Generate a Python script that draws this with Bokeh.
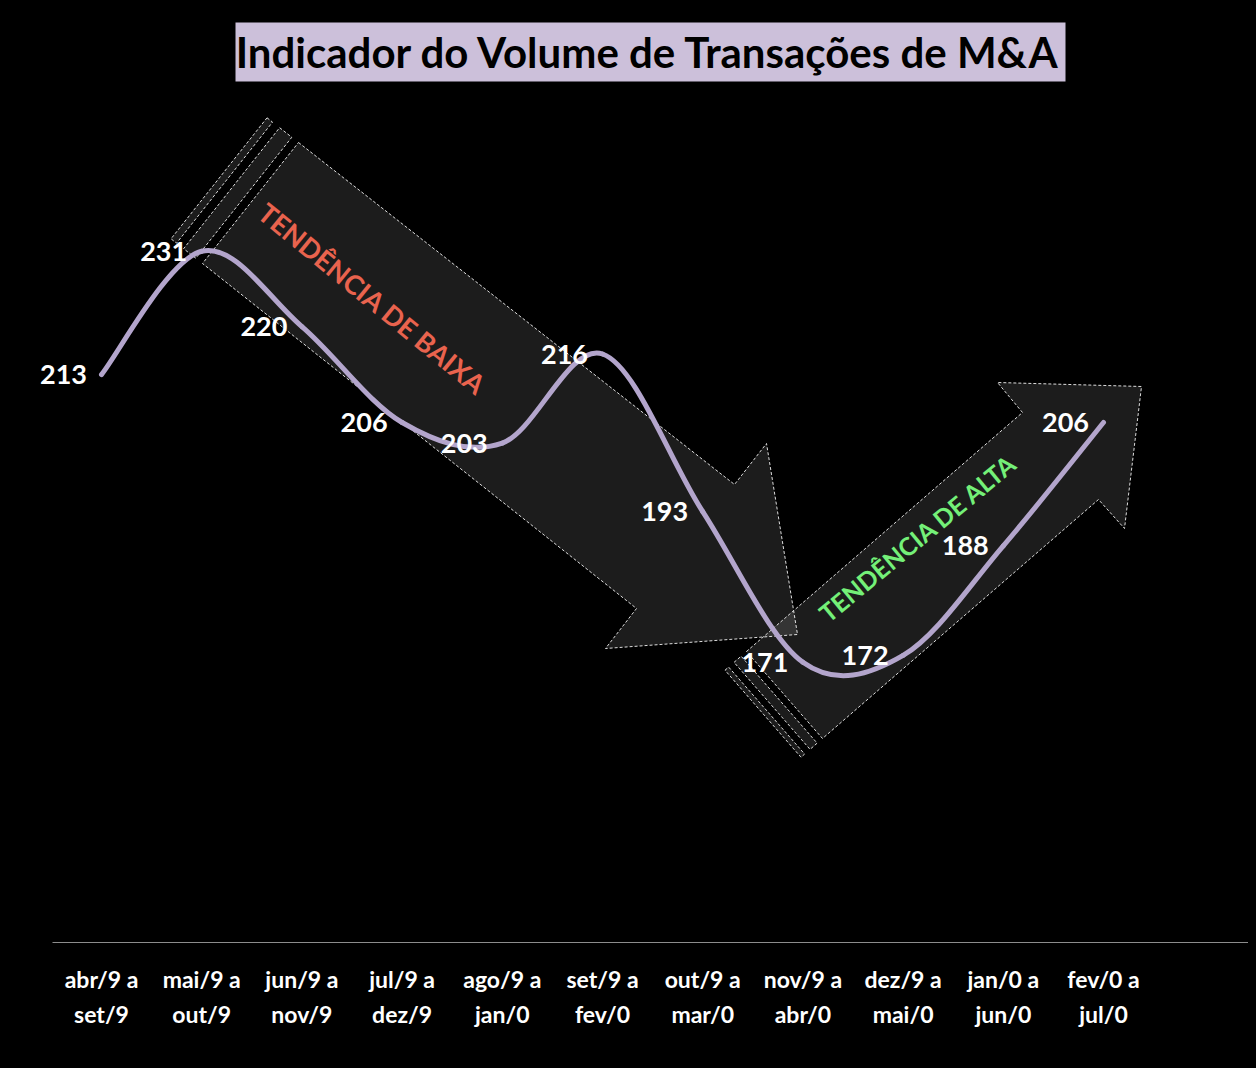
import numpy as np
from bokeh.plotting import figure
from bokeh.models import (Range1d, LinearAxis, FixedTicker, ColumnDataSource,
                          LabelSet, Label, BoxAnnotation)
from bokeh.core.properties import value
from bokeh.embed import file_html
from bokeh.resources import INLINE

# ---------------- data ----------------
categories = ["abr/9 a\nset/9", "mai/9 a\nout/9", "jun/9 a\nnov/9", "jul/9 a\ndez/9",
              "ago/9 a\njan/0", "set/9 a\nfev/0", "out/9 a\nmar/0", "nov/9 a\nabr/0",
              "dez/9 a\nmai/0", "jan/0 a\njun/0", "fev/0 a\njul/0"]
values = [213, 231, 220, 206, 203, 216, 193, 171, 172, 188, 206]
title_text = "Indicador do Volume de Transações de M&A"
trend_down = "TENDÊNCIA DE BAIXA"
trend_up = "TENDÊNCIA DE ALTA"

# ---------------- layout ----------------
W, H = 1240, 1052
PAGE_OFF = 8
FR_L, FR_R, FR_T, FR_B = 8, 1248, 8, 942            # frame edges in page px
AXIS_L = 52                                          # axis line starts here (page px)
CAT_X0, CAT_DX = 101.0, 100.2                        # category centre mapping (page px)
Y_REF_V, Y_REF_PX, PX_PER_UNIT = 206.0, 422.0, 6.85

def px2x(px):
    return (px - CAT_X0) / CAT_DX

def py2v(py):
    return Y_REF_V - (py - Y_REF_PX) / PX_PER_UNIT

x_rng = Range1d(px2x(FR_L), px2x(FR_R))
y_rng = Range1d(py2v(FR_B), py2v(FR_T))

p = figure(width=W, height=H, x_range=x_rng, y_range=y_rng,
           output_backend="svg", toolbar_location=None, title=None,
           x_axis_location=None, y_axis_location=None,
           min_border_left=0, min_border_right=0,
           min_border_top=0, min_border_bottom=H - (FR_B - PAGE_OFF))
p.background_fill_color = "black"
p.border_fill_color = "black"
p.outline_line_color = None
p.xgrid.visible = False
p.ygrid.visible = False

# ---------------- arrows (decoration) ----------------
DOWN_ARROW_PX = [(298, 142), (734, 484), (766, 443), (797, 634), (605, 648), (636, 608), (202, 263)]
UP_ARROW_PX = [(746, 651), (1022, 412), (997, 382), (1141, 386), (1124, 528), (1098, 499), (822, 738)]

def stripes(T, B, u, intervals):
    out = []
    for a, b in intervals:
        pts = [(T[0] + a * u[0], T[1] + a * u[1]), (T[0] + b * u[0], T[1] + b * u[1]),
               (B[0] + b * u[0], B[1] + b * u[1]), (B[0] + a * u[0], B[1] + a * u[1])]
        out.append(pts)
    return out

shapes = []
shapes += stripes((298, 142), (202, 263), (0.787, 0.617), [(-40, -33), (-24, -8.5)])
shapes.append(DOWN_ARROW_PX)
shapes += stripes((746, 651), (822, 738), (0.754, -0.657), [(-28.5, -23.7), (-16.5, -7.1)])
shapes.append(UP_ARROW_PX)

p.patches(xs=[[px2x(a) for a, _ in s] for s in shapes],
          ys=[[py2v(b) for _, b in s] for s in shapes],
          fill_color="white", fill_alpha=0.11,
          line_color="#DDDDDD", line_width=1, line_dash="3 2")

p.text(x=[px2x(372)], y=[py2v(298)], text=[trend_down], angle=-0.684,
       text_font=value("Lato"), text_font_style="bold", text_font_size="27px",
       text_color="#E9634E", text_align="center", text_baseline="middle")
p.text(x=[px2x(917)], y=[py2v(537)], text=[trend_up], angle=0.69,
       text_font=value("Lato"), text_font_style="bold", text_font_size="25px",
       text_color="#74F078", text_align="center", text_baseline="middle")

# ---------------- smoothed line (bezier segments through the data) ----------------
n = len(values)
xi = np.arange(n, dtype=float)
yv = np.array(values, dtype=float)
x0, y0, x1, y1, cx0, cy0, cx1, cy1 = ([] for _ in range(8))
for i in range(n - 1):
    ip = max(i - 1, 0)
    inn = min(i + 2, n - 1)
    x0.append(xi[i]); y0.append(yv[i]); x1.append(xi[i + 1]); y1.append(yv[i + 1])
    cx0.append(xi[i] + (xi[i + 1] - xi[ip]) / 6); cy0.append(yv[i] + (yv[i + 1] - yv[ip]) / 6)
    cx1.append(xi[i + 1] - (xi[inn] - xi[i]) / 6); cy1.append(yv[i + 1] - (yv[inn] - yv[i]) / 6)
p.bezier(x0=x0, y0=y0, x1=x1, y1=y1, cx0=cx0, cy0=cy0, cx1=cx1, cy1=cy1,
         line_color="#B3A5CC", line_width=5, line_cap="round")

# ---------------- data labels ----------------
lab_src = ColumnDataSource(dict(x=list(range(n)), y=values, t=[str(v) for v in values]))
p.add_layout(LabelSet(x="x", y="y", text="t", source=lab_src,
                      x_offset=-38, text_align="center", text_baseline="middle",
                      text_font=value("Lato"), text_font_style="bold", text_font_size="27px",
                      text_color="white"))

# ---------------- category axis ----------------
ax = LinearAxis(ticker=FixedTicker(ticks=list(range(n))),
                major_label_overrides={i: c for i, c in enumerate(categories)},
                bounds=(px2x(AXIS_L), px2x(FR_R)))
ax.axis_line_color = "#8C8C8C"
ax.axis_line_width = 1
ax.major_tick_line_color = None
ax.minor_tick_line_color = None
ax.major_label_text_color = "white"
ax.major_label_text_font = "Lato"
ax.major_label_text_font_style = "bold"
ax.major_label_text_font_size = "23px"
ax.major_label_text_line_height = 1.27
ax.major_label_standoff = 16
p.add_layout(ax, "below")

# ---------------- title box ----------------
p.add_layout(BoxAnnotation(left=px2x(235), right=px2x(1065), top=py2v(22), bottom=py2v(81),
                           fill_color="#CCC0DA", fill_alpha=1.0, line_color=None))
p.add_layout(Label(x=px2x(648), y=py2v(51.5), text=title_text, text_align="center",
                   text_baseline="middle", text_font="Lato", text_font_style="bold",
                   text_font_size="42px", text_color="black"))

html = file_html(p, INLINE)
html = html.replace("</head>",
                    "<style>html,body{background:#000000 !important;}"
                    "body{margin:0 !important;padding:8px !important;}</style></head>", 1)
open("out.html", "w").write(html)
